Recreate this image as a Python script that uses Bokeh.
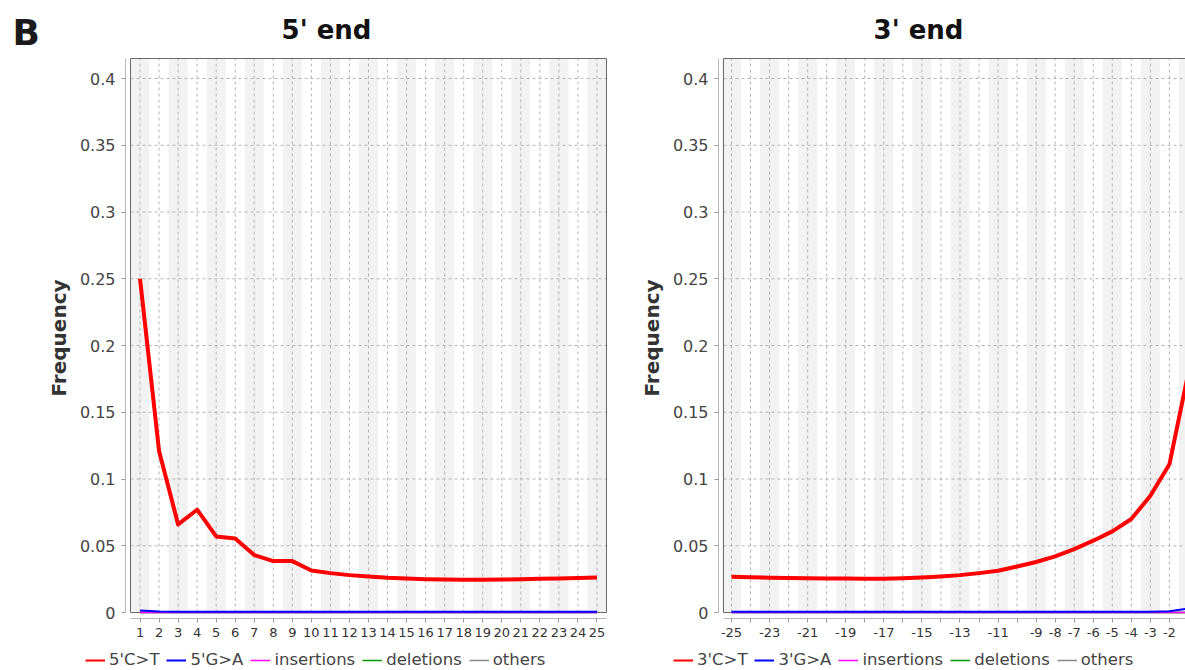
from bokeh.plotting import figure
from bokeh.models import FixedTicker, Legend, LegendItem, Label, Range1d, ColumnDataSource
from bokeh.layouts import row, column
from bokeh.embed import file_html
from bokeh.resources import INLINE

# ---------------- data ----------------
pos_5 = [1, 2, 3, 4, 5, 6, 7, 8, 9, 10, 11, 12, 13, 14, 15, 16, 17, 18, 19, 20, 21, 22, 23, 24, 25]
labels_5 = ["1", "2", "3", "4", "5", "6", "7", "8", "9", "10", "11", "12", "13", "14", "15",
            "16", "17", "18", "19", "20", "21", "22", "23", "24", "25"]
ct_5 = [0.250, 0.121, 0.066, 0.077, 0.057, 0.0555, 0.043, 0.0385, 0.0385, 0.0315, 0.0295, 0.028,
        0.027, 0.026, 0.0255, 0.025, 0.0248, 0.0246, 0.0246, 0.0247, 0.0249, 0.0252, 0.0255,
        0.0258, 0.0262]
ga_5 = [0.0015, 0.0008, 0.0006, 0.0005, 0.0005, 0.0005, 0.0005, 0.0005, 0.0005, 0.0005, 0.0005,
        0.0005, 0.0005, 0.0005, 0.0005, 0.0005, 0.0005, 0.0005, 0.0005, 0.0005, 0.0005, 0.0005,
        0.0005, 0.0005, 0.0005]
ins_5 = [0.0, 0.0, 0.0, 0.0, 0.0, 0.0, 0.0, 0.0, 0.0, 0.0, 0.0, 0.0, 0.0, 0.0, 0.0, 0.0, 0.0,
         0.0, 0.0, 0.0, 0.0, 0.0, 0.0, 0.0, 0.0]
del_5 = [0.0, 0.0, 0.0, 0.0, 0.0, 0.0, 0.0, 0.0, 0.0, 0.0, 0.0, 0.0, 0.0, 0.0, 0.0, 0.0, 0.0,
         0.0, 0.0, 0.0, 0.0, 0.0, 0.0, 0.0, 0.0]
oth_5 = [0.0, 0.0, 0.0, 0.0, 0.0, 0.0, 0.0, 0.0, 0.0, 0.0, 0.0, 0.0, 0.0, 0.0, 0.0, 0.0, 0.0,
         0.0, 0.0, 0.0, 0.0, 0.0, 0.0, 0.0, 0.0]

pos_3 = [-25, -24, -23, -22, -21, -20, -19, -18, -17, -16, -15, -14, -13, -12, -11, -10, -9, -8,
         -7, -6, -5, -4, -3, -2, -1]
labels_3 = ["-25", "", "-23", "", "-21", "", "-19", "", "-17", "", "-15", "", "-13", "", "-11", "",
            "-9", "-8", "-7", "-6", "-5", "-4", "-3", "-2", "-1"]
ct_3 = [0.0267, 0.0264, 0.0261, 0.0259, 0.0257, 0.0255, 0.0254, 0.0253, 0.0253, 0.0256, 0.0262,
        0.027, 0.028, 0.0295, 0.0313, 0.0345, 0.0378, 0.042, 0.0475, 0.0538, 0.0608, 0.070,
        0.0875, 0.111, 0.180]
ga_3 = [0.0005, 0.0005, 0.0005, 0.0005, 0.0005, 0.0005, 0.0005, 0.0005, 0.0005, 0.0005, 0.0005,
        0.0005, 0.0005, 0.0005, 0.0005, 0.0005, 0.0005, 0.0005, 0.0005, 0.0005, 0.0005, 0.0005,
        0.0006, 0.0010, 0.0030]
ins_3 = [0.0, 0.0, 0.0, 0.0, 0.0, 0.0, 0.0, 0.0, 0.0, 0.0, 0.0, 0.0, 0.0, 0.0, 0.0, 0.0, 0.0,
         0.0, 0.0, 0.0, 0.0, 0.0, 0.0, 0.0, 0.0]
del_3 = [0.0, 0.0, 0.0, 0.0, 0.0, 0.0, 0.0, 0.0, 0.0, 0.0, 0.0, 0.0, 0.0, 0.0, 0.0, 0.0, 0.0,
         0.0, 0.0, 0.0, 0.0, 0.0, 0.0, 0.0, 0.0]
oth_3 = [0.0, 0.0, 0.0, 0.0, 0.0, 0.0, 0.0, 0.0, 0.0, 0.0, 0.0, 0.0, 0.0, 0.0, 0.0, 0.0, 0.0,
         0.0, 0.0, 0.0, 0.0, 0.0, 0.0, 0.0, 0.0]

y_ticks = [0, 0.05, 0.1, 0.15, 0.2, 0.25, 0.3, 0.35, 0.4]
y_labels = ["0", "0.05", "0.1", "0.15", "0.2", "0.25", "0.3", "0.35", "0.4"]

legend_5 = ["5'C>T", "5'G>A", "insertions", "deletions", "others"]
legend_3 = ["3'C>T", "3'G>A", "insertions", "deletions", "others"]
series_colors = ["#ff0000", "#0000ff", "#ff00ff", "#009900", "#888888"]
series_widths = [4, 2, 1.5, 1.5, 1.5]

# ---------------- layout constants ----------------
FONT = "DejaVu Sans"
PX_X = 19.04          # pixels per x unit
YMAX = 0.415
PX_Y = 554 / YMAX     # pixels per y unit
GAP = 5               # gap between axis line and frame
TOP_H = 56
HEIGHT = 592
BORDER_TOP = 1
BORDER_BOTTOM = 30
STRIP_H = 22
W_LEFT = 636
W_RIGHT = 549


def strip(width, height):
    s = figure(width=width, height=height, output_backend="svg", toolbar_location=None,
               x_range=Range1d(0, width), y_range=Range1d(1000, 1000 + height),
               x_axis_type=None, y_axis_type=None,
               min_border_left=0, min_border_right=0, min_border_top=0, min_border_bottom=0)
    s.outline_line_color = None
    s.background_fill_color = "white"
    s.border_fill_color = "white"
    return s


def panel(pos, tick_labels, series, width, border_left, border_right, pad, frame_w):
    vis_left = pos[0] - pad
    vis_right = pos[-1] + 0.5
    x_start = vis_left - GAP / PX_X
    x_end = x_start + frame_w / PX_X
    y_start = -(GAP + 1) / PX_Y
    y_end = YMAX + 1 / PX_Y

    p = figure(width=width, height=HEIGHT, output_backend="svg", toolbar_location=None,
               x_range=Range1d(x_start, x_end), y_range=Range1d(y_start, y_end),
               min_border_left=border_left, min_border_right=border_right,
               min_border_top=BORDER_TOP, min_border_bottom=BORDER_BOTTOM)
    p.outline_line_color = None
    p.xgrid.visible = False
    p.ygrid.visible = False
    p.background_fill_color = "white"
    p.border_fill_color = "white"

    # alternating background bands
    odd = pos[::2]
    p.quad(left=[v - 0.5 for v in odd], right=[v + 0.5 for v in odd],
           bottom=0, top=YMAX, fill_color="#f2f2f2", line_color=None)
    # dashed grid lines
    p.segment(x0=pos, x1=pos, y0=0, y1=YMAX, line_color="#b4b4b4", line_width=1,
              line_dash="3 3")
    p.segment(x0=vis_left, x1=vis_right, y0=y_ticks[1:], y1=y_ticks[1:],
              line_color="#b4b4b4", line_width=1, line_dash="3 3")
    # frame
    p.quad(left=vis_left, right=vis_right, bottom=0, top=YMAX, fill_color=None,
           line_color="#6a6a6a", line_width=1)

    src = ColumnDataSource(dict(x=pos, ct=series[0], ga=series[1], ins=series[2],
                                dele=series[3], oth=series[4]))
    keys = ["ct", "ga", "ins", "dele", "oth"]
    for i in [4, 3, 2, 0, 1]:
        p.line("x", keys[i], source=src, line_color=series_colors[i],
               line_width=series_widths[i], line_join="round")

    # axes
    xa = p.xaxis[0]
    xa.ticker = FixedTicker(ticks=pos)
    xa.major_label_overrides = {v: s for v, s in zip(pos, tick_labels)}
    xa.bounds = (vis_left, vis_right)
    xa.axis_line_color = "#b8b8b8"
    xa.major_tick_line_color = "#9a9a9a"
    xa.major_tick_out = 4
    xa.major_tick_in = 0
    xa.minor_tick_line_color = None
    xa.major_label_standoff = 5
    xa.major_label_text_font = FONT
    xa.major_label_text_font_size = "13px"
    xa.major_label_text_color = "#333333"

    ya = p.yaxis[0]
    ya.ticker = FixedTicker(ticks=y_ticks)
    ya.major_label_overrides = {v: s for v, s in zip(y_ticks, y_labels)}
    ya.bounds = (0, YMAX)
    ya.axis_line_color = "#b8b8b8"
    ya.major_tick_line_color = "#9a9a9a"
    ya.major_tick_out = 4
    ya.major_tick_in = 0
    ya.minor_tick_line_color = None
    ya.major_label_standoff = 6
    ya.major_label_text_font = FONT
    ya.major_label_text_font_size = "16px"
    ya.major_label_text_color = "#444444"
    ya.axis_label = "Frequency"
    ya.axis_label_text_font = FONT
    ya.axis_label_text_font_style = "bold"
    ya.axis_label_text_font_size = "20px"
    ya.axis_label_text_color = "#333333"
    ya.axis_label_standoff = 6
    return p


def title_strip(title, width, title_x, letter=None):
    s = strip(width, TOP_H)
    s.add_layout(Label(x=title_x, y=TOP_H - 29, x_units="screen", y_units="screen",
                       text=title, text_font=FONT, text_font_style="bold",
                       text_font_size="26px", text_color="#111111",
                       text_align="center", text_baseline="middle"))
    if letter:
        s.add_layout(Label(x=12, y=TOP_H - 31.5, x_units="screen", y_units="screen",
                           text=letter, text_font=FONT, text_font_style="bold",
                           text_font_size="36px", text_color="#1a1a1a",
                           text_align="left", text_baseline="middle"))
    return s


def legend_strip(names, pos, series, width, legend_x):
    s = strip(width, STRIP_H)
    items = []
    for i in range(5):
        # the series lie far outside this strip's y range, so only their legend glyphs show
        r = s.line(x=pos, y=series[i], line_color=series_colors[i],
                   line_width=min(series_widths[i], 2))
        items.append(LegendItem(label=names[i], renderers=[r]))
    leg = Legend(items=items, orientation="horizontal", location=(legend_x, 1),
                 label_text_font=FONT, label_text_font_size="16.5px",
                 label_text_color="#444444", glyph_width=20, glyph_height=14,
                 label_height=16, label_standoff=4, spacing=7, padding=0, margin=0,
                 border_line_color=None, background_fill_alpha=0)
    s.add_layout(leg, "center")
    return s


series_5 = [ct_5, ga_5, ins_5, del_5, oth_5]
series_3 = [ct_3, ga_3, ins_3, del_3, oth_3]

top_left = title_strip("5' end", W_LEFT, 326, letter="B")
top_right = title_strip("3' end", W_RIGHT, 918 - W_LEFT)
left = panel(pos_5, labels_5, series_5, W_LEFT, border_left=125, border_right=29,
             pad=0.5, frame_w=482)
right = panel(pos_3, labels_3, series_3, W_RIGHT, border_left=82, border_right=0,
              pad=0.42, frame_w=467)
leg_left = legend_strip(legend_5, pos_5, series_5, W_LEFT, 85)
leg_right = legend_strip(legend_3, pos_3, series_3, W_RIGHT, 37)

layout = column(row(top_left, top_right), row(left, right), row(leg_left, leg_right))
open("out.html", "w").write(file_html(layout, INLINE))
